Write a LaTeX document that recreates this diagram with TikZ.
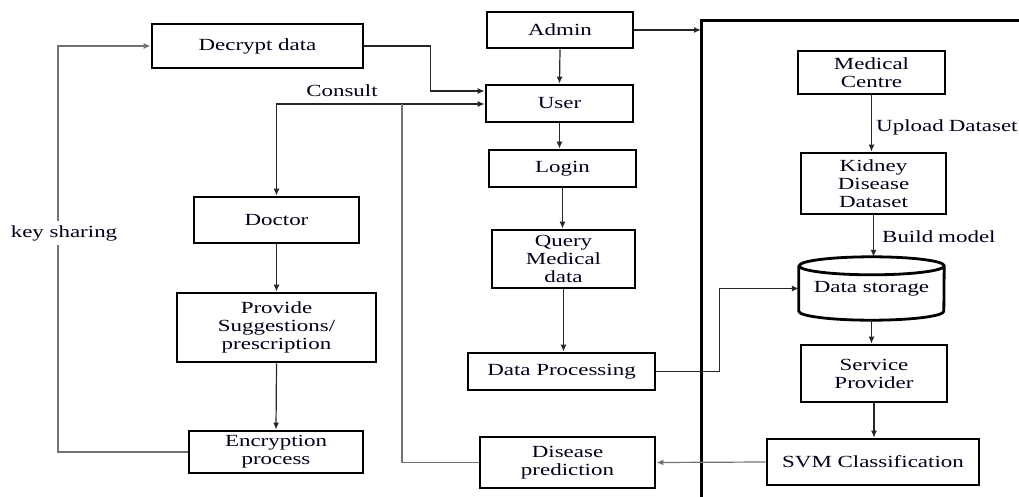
\documentclass[tikz,border=0pt]{standalone}
\usepackage{fontspec}
\setmainfont{Liberation Serif}[FakeStretch=1.35]
\usetikzlibrary{arrows.meta}
\begin{document}
\begin{tikzpicture}[x=1pt,y=-1pt,
  every node/.style={font=\fontsize{17}{18}\selectfont, text=black!90!blue, align=center, inner sep=0pt},
  box/.style={draw=black, line width=2.8pt, minimum width=#1},
  conn/.style={draw=black!85, line width=1.2pt},
  gconn/.style={draw=black!55, line width=1.2pt},
  arr/.style={-{Latex[length=7pt,width=6pt]}},
  panelline/.style={draw=black, line width=3pt}]
\useasboundingbox (0,0) rectangle (1019,497);
% panel
\coordinate (pnl) at (701,21);
\draw[panelline] (1025,21) -- (pnl) -- (701,505);
% nodes
\node[box=211, minimum height=44] (decrypt) at (257.5,46) {Decrypt data};
\node[box=146, minimum height=36] (admin) at (560,30) {Admin};
\node[box=147, minimum height=37] (user) at (559.5,103.5) {User};
\node[box=147, minimum height=37] (login) at (562.5,168.5) {Login};
\node[box=143, minimum height=58] (query) at (563.5,259) {Query\\Medical\\data};
\node[box=187, minimum height=37] (dataproc) at (561.5,371.5) {Data Processing};
\node[box=175, minimum height=51] (disease) at (567.5,462.5) {Disease\\prediction};
\node[box=165, minimum height=46] (doctor) at (276.5,220) {Doctor};
\node[box=199, minimum height=69] (provide) at (276.5,327.5) {Provide\\Suggestions/\\prescription};
\node[box=174, minimum height=42] (encrypt) at (276,452) {Encryption\\process};
\node[box=147, minimum height=43] (medical) at (871.5,72.5) {Medical\\Centre};
\node[box=145, minimum height=61] (kidney) at (873.5,183.5) {Kidney\\Disease\\Dataset};
\node[minimum width=145, minimum height=63] (storage) at (871.5,288.5) {\raisebox{-6pt}{Data storage}};
\node[box=146, minimum height=57] (service) at (874,373.5) {Service\\Provider};
\node[box=212, minimum height=46] (svm) at (873,462) {SVM Classification};
% cylinder outline
\draw[line width=2.8pt] ([yshift=-9pt]storage.north west) -- ([yshift=9pt]storage.south west)
  arc[start angle=180, end angle=360, x radius=72.5pt, y radius=9pt]
  -- ([yshift=-9pt]storage.north east)
  arc[start angle=0, end angle=360, x radius=72.5pt, y radius=9pt];
% labels
\node (consult) at (342,91) {Consult};
\node[anchor=west] (upload) at (876,127) {Upload\hspace{5pt}Dataset};
\node[anchor=west] (build) at (882,237) {Build\hspace{5pt}model};
% connectors
\coordinate (jn) at (402,104);
\draw[conn, arr] (admin.east) -- (admin.east -| pnl);
\draw[conn, arr] (admin.south) -- (user.north);
\draw[conn, arr] (user.south) -- (user.south |- login.north);
\draw[conn, arr] (login.south) -- (login.south |- query.north);
\draw[conn, arr] (query.south) -- (query.south |- dataproc.north);
\draw[conn, arr] (decrypt.east) -- ++(66,0) |- ([yshift=12.5pt]user.west);
\draw[conn, {Latex[length=7pt,width=6pt]}-{Latex[length=7pt,width=6pt]}] ([yshift=-0.5pt]user.west) -| (doctor.north);
\draw[gconn] (disease.west) -| (jn);
\draw[conn, arr] (doctor.south) -- (provide.north);
\draw[conn, arr] (provide.south) -- (encrypt.north);
\draw[gconn, arr] (encrypt.west) -- (58,452) |- (decrypt.west);
\node[fill=white, inner ysep=4pt, inner xsep=1pt] (keysh) at (64,233) {key sharing};
\draw[conn, arr] (dataproc.east) -- ++(63,0) |- (storage.west);
\draw[conn, arr] (medical.south) -- (medical.south |- kidney.north);
\draw[conn, arr] (kidney.south) -- (kidney.south |- storage.north);
\draw[conn, arr] (storage.south) -- (storage.south |- service.north);
\draw[conn, arr] (service.south) -- (service.south |- svm.north);
\draw[gconn, arr] (svm.west) -- (disease.east);
\end{tikzpicture}
\end{document}
